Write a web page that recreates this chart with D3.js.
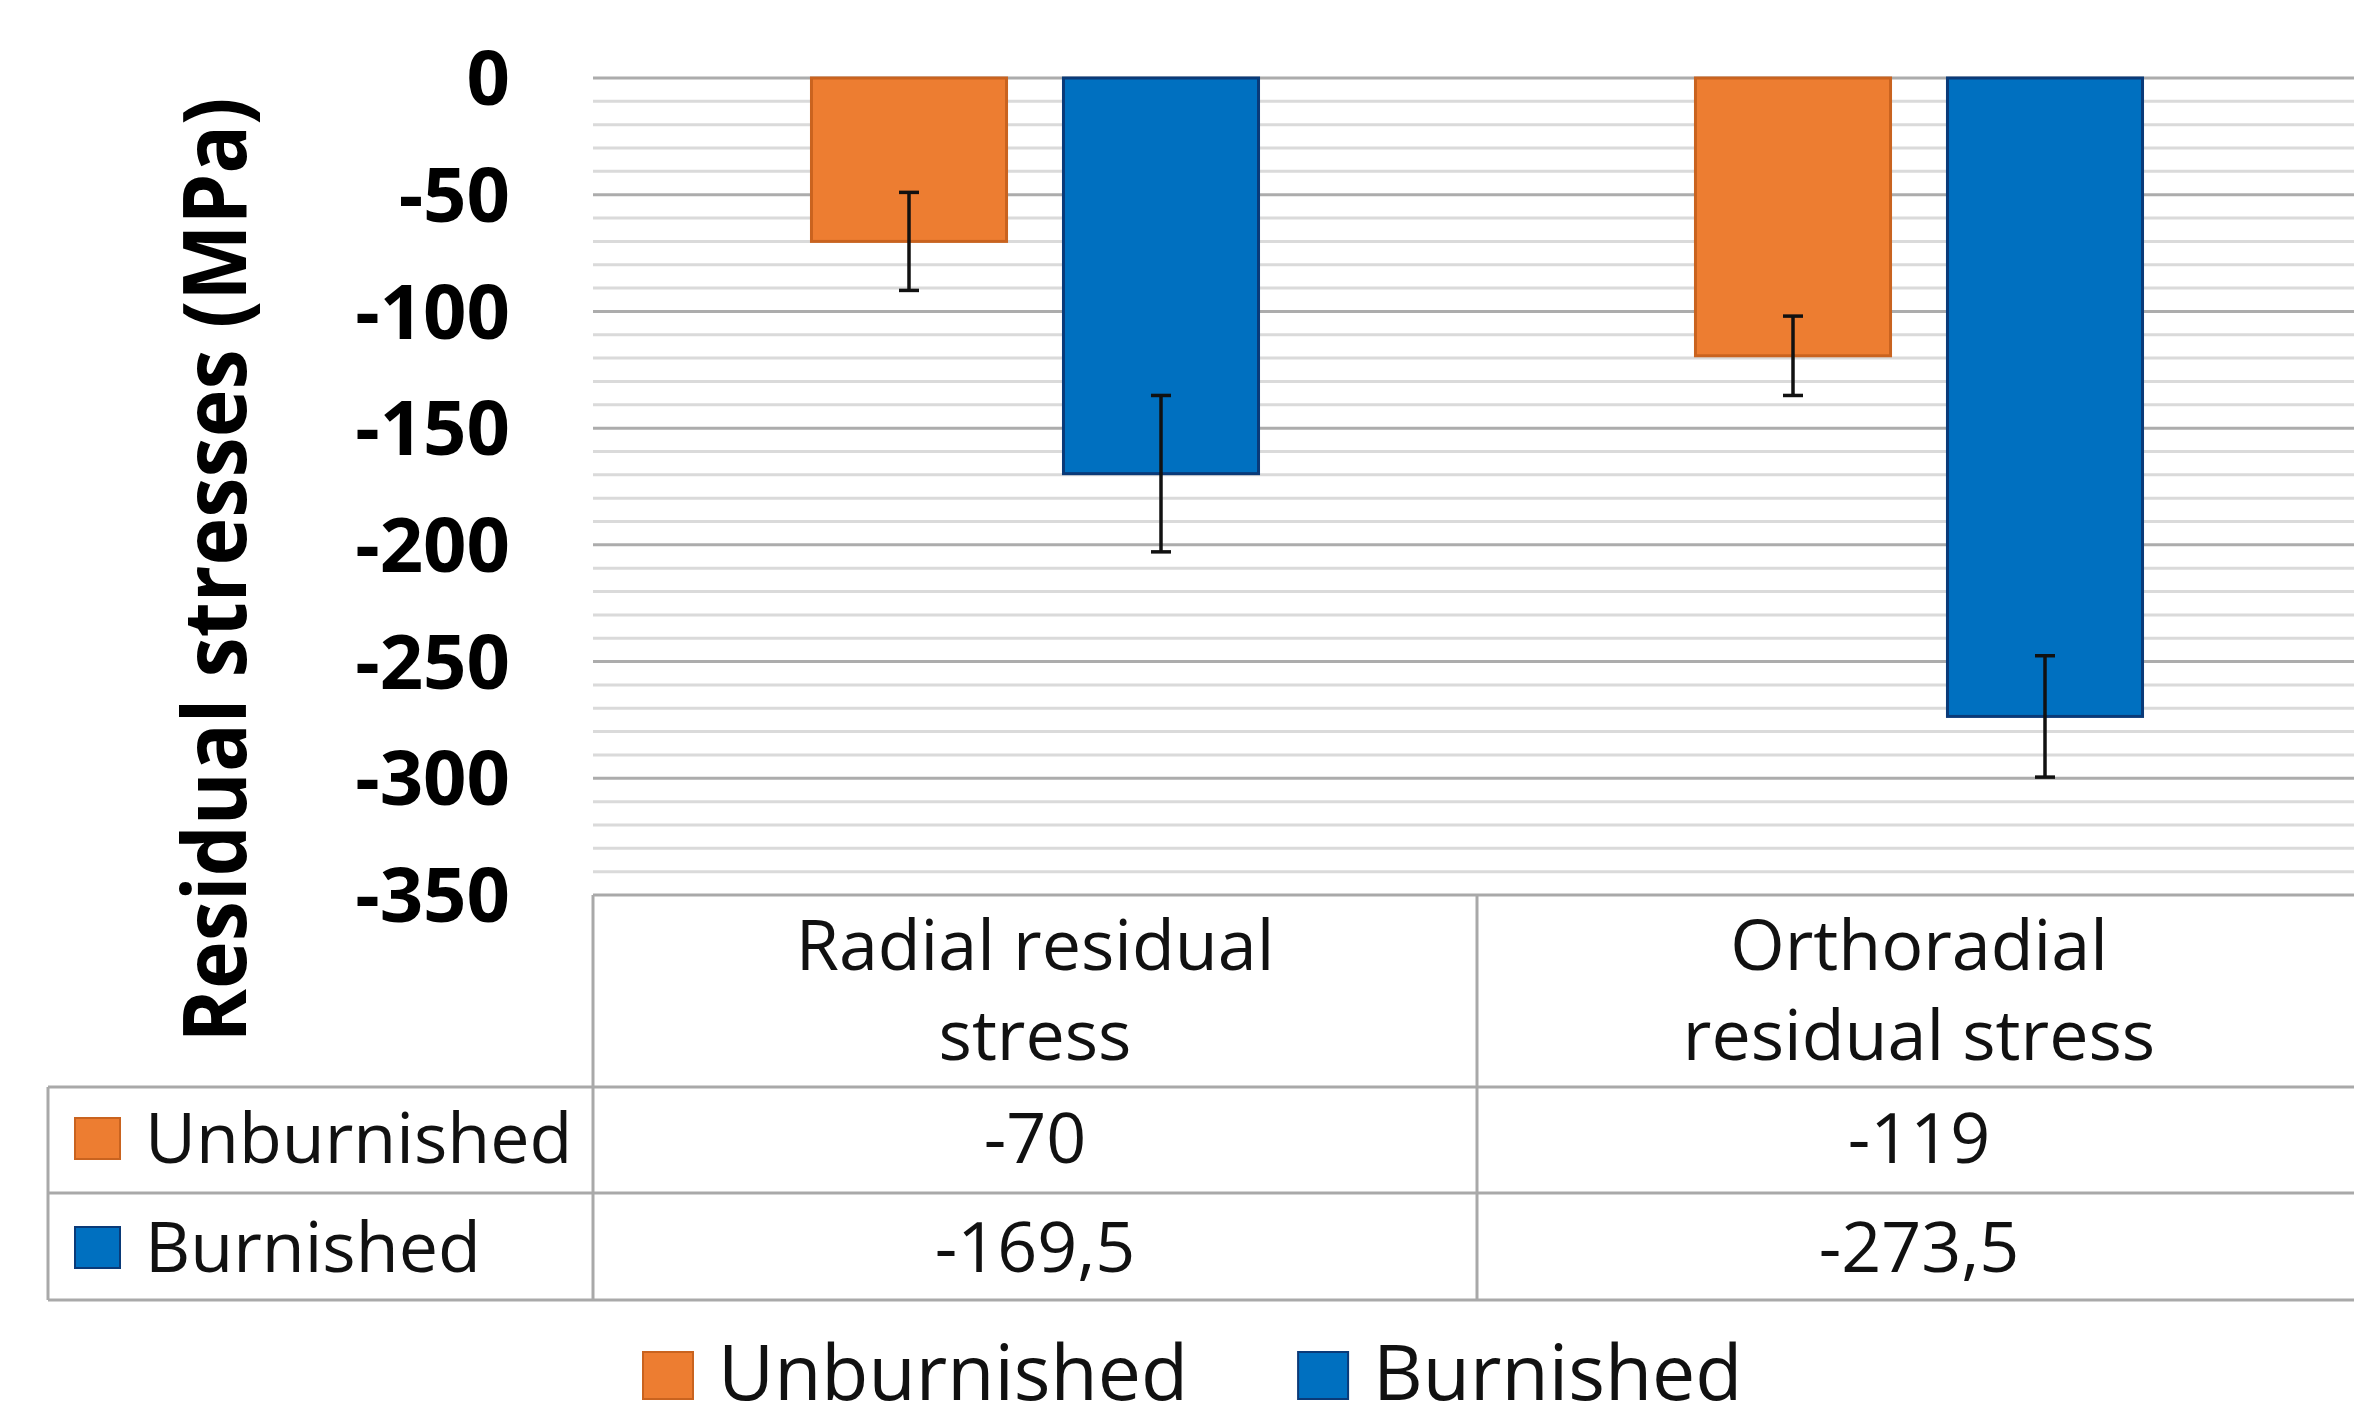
<!doctype html>
<html lang="en">

<head>
    <meta charset="utf-8">
    <title>Residual stresses</title>
    <script src="https://cdn.jsdelivr.net/npm/d3@7"></script>
    <style>
        body {
            margin: 0;
            background: #ffffff;
        }

        svg {
            display: block;
            font-family: "Open Sans", "Noto Sans", sans-serif;
        }
    </style>
</head>

<body>
    <svg></svg>

    <script>
        // data
        var categories = ["Radial residual\nstress", "Orthoradial\nresidual stress"];
        var seriesNames = ["Unburnished", "Burnished"];
        var unburnished = [-70, -119];
        var burnished = [-169.5, -273.5];
        var unburnishedErr = [21, 17];
        var burnishedErr = [33.5, 26];
        var yTicks = [0, -50, -100, -150, -200, -250, -300, -350];
        var colors = ["#ed7d31", "#0070c0"];
        var strokes = ["#c9631f", "#0a3a78"];

        var width = 2354;
        var height = 1423;
        var plotLeft = 593;
        var plotTop = 78;
        var plotBottom = 895;
        var catWidth = 884;
        var headerBottom = 1087;
        var row1Bottom = 1193;
        var row2Bottom = 1300;
        var tableLeft = 48;

        var series = [
            { name: seriesNames[0], values: unburnished, err: unburnishedErr, color: colors[0], stroke: strokes[0] },
            { name: seriesNames[1], values: burnished, err: burnishedErr, color: colors[1], stroke: strokes[1] }
        ];

        // minus sign as a plain hyphen and comma decimal, like the original
        var loc = d3.formatLocale({ decimal: ",", thousands: " ", grouping: [3], currency: ["", ""], minus: "-" });
        var fmt = loc.format("~f");

        var svg = d3.select('svg').attr('width', width).attr('height', height);

        var x = d3.scaleBand()
            .domain(categories)
            .range([plotLeft, plotLeft + catWidth * categories.length])
            .padding(0);

        var xs = d3.scaleBand()
            .domain(seriesNames)
            .range([0, x.bandwidth()])
            .paddingInner(0.226)
            .paddingOuter(0.867);

        var y = d3.scaleLinear()
            .domain([-350, 0])
            .range([plotBottom, plotTop]);

        // minor gridlines every 10
        var minor = d3.range(0, -350, -10).filter(function (d) { return d % 50 !== 0; });
        svg.append('g')
            .attr('class', 'grid-minor')
            .selectAll('line')
            .data(minor)
            .enter()
            .append('line')
            .attr('x1', plotLeft)
            .attr('x2', width)
            .attr('y1', function (d) { return y(d); })
            .attr('y2', function (d) { return y(d); })
            .attr('stroke', '#dadada')
            .attr('stroke-width', 3);

        // major gridlines
        svg.append('g')
            .attr('class', 'grid-major')
            .selectAll('line')
            .data(yTicks.filter(function (d) { return d > -350; }))
            .enter()
            .append('line')
            .attr('x1', plotLeft)
            .attr('x2', width)
            .attr('y1', function (d) { return y(d); })
            .attr('y2', function (d) { return y(d); })
            .attr('stroke', '#acacac')
            .attr('stroke-width', 3);

        // y axis labels
        var yAxis = d3.axisLeft(y)
            .tickValues(yTicks)
            .tickFormat(loc.format("d"))
            .tickSize(0)
            .tickPadding(plotLeft - 510);

        svg.append('g')
            .attr('class', 'axis-y')
            .attr('transform', 'translate(' + plotLeft + ', 0)')
            .call(yAxis)
            .call(function (g) { g.select('.domain').remove(); })
            .selectAll('text')
            .attr('font-family', '"Open Sans", sans-serif')
            .attr('font-size', 76)
            .attr('font-weight', 700)
            .attr('fill', '#000')
            .attr('dy', '0.35em');

        // y axis title
        svg.append('text')
            .attr('transform', 'translate(246, 570) rotate(-90)')
            .attr('text-anchor', 'middle')
            .attr('font-size', 88)
            .attr('font-weight', 700)
            .attr('fill', '#000')
            .attr('textLength', 945)
            .attr('lengthAdjust', 'spacingAndGlyphs')
            .text('Residual stresses (MPa)');

        // bars
        var groups = svg.append('g')
            .attr('class', 'bars')
            .selectAll('g')
            .data(series)
            .enter()
            .append('g');

        groups.selectAll('rect')
            .data(function (s) {
                return s.values.map(function (v, i) { return { s: s, v: v, c: categories[i] }; });
            })
            .enter()
            .append('rect')
            .attr('x', function (d) { return x(d.c) + xs(d.s.name); })
            .attr('y', y(0))
            .attr('width', xs.bandwidth())
            .attr('height', function (d) { return y(d.v) - y(0); })
            .attr('fill', function (d) { return d.s.color; })
            .attr('stroke', function (d) { return d.s.stroke; })
            .attr('stroke-width', 3);

        // error bars
        var errData = [];
        series.forEach(function (s) {
            s.values.forEach(function (v, i) {
                errData.push({ cx: x(categories[i]) + xs(s.name) + xs.bandwidth() / 2, lo: v - s.err[i], hi: v + s.err[i] });
            });
        });
        var eb = svg.append('g').attr('class', 'errors')
            .selectAll('g')
            .data(errData)
            .enter()
            .append('g')
            .attr('stroke', '#111')
            .attr('stroke-width', 3.5);
        eb.append('line')
            .attr('x1', function (d) { return d.cx; })
            .attr('x2', function (d) { return d.cx; })
            .attr('y1', function (d) { return y(d.hi); })
            .attr('y2', function (d) { return y(d.lo); });
        eb.append('line')
            .attr('x1', function (d) { return d.cx - 10; })
            .attr('x2', function (d) { return d.cx + 10; })
            .attr('y1', function (d) { return y(d.hi); })
            .attr('y2', function (d) { return y(d.hi); });
        eb.append('line')
            .attr('x1', function (d) { return d.cx - 10; })
            .attr('x2', function (d) { return d.cx + 10; })
            .attr('y1', function (d) { return y(d.lo); })
            .attr('y2', function (d) { return y(d.lo); });

        // data table under the plot
        var table = svg.append('g').attr('class', 'table')
            .attr('stroke', '#a9a9a9')
            .attr('stroke-width', 3);
        table.append('line').attr('x1', plotLeft).attr('x2', width).attr('y1', plotBottom).attr('y2', plotBottom);
        [headerBottom, row1Bottom, row2Bottom].forEach(function (yy) {
            table.append('line').attr('x1', tableLeft).attr('x2', width).attr('y1', yy).attr('y2', yy);
        });
        table.append('line').attr('x1', tableLeft).attr('x2', tableLeft).attr('y1', headerBottom).attr('y2', row2Bottom);
        x.domain().forEach(function (c) {
            table.append('line').attr('x1', x(c)).attr('x2', x(c)).attr('y1', plotBottom).attr('y2', row2Bottom);
        });
        table.append('line')
            .attr('x1', x.range()[1]).attr('x2', x.range()[1])
            .attr('y1', plotBottom).attr('y2', row2Bottom);

        // header cells
        var head = svg.append('g').attr('class', 'table-head')
            .selectAll('text')
            .data(categories)
            .enter()
            .append('text')
            .attr('x', function (d) { return x(d) + x.bandwidth() / 2; })
            .attr('y', 970)
            .attr('text-anchor', 'middle')
            .attr('font-size', 70)
            .attr('fill', '#111');
        head.selectAll('tspan')
            .data(function (d) { return d.split('\n'); })
            .enter()
            .append('tspan')
            .attr('x', function () { var p = this.parentNode; return p.getAttribute('x'); })
            .attr('dy', function (d, i) { return i === 0 ? 0 : 90; })
            .text(function (d) { return d; });

        // rows: key, name, values
        var rowBase = [1163, 1272];
        var rows = svg.append('g').attr('class', 'table-rows')
            .selectAll('g')
            .data(series)
            .enter()
            .append('g');
        rows.append('rect')
            .attr('x', 75)
            .attr('y', function (d, i) { return rowBase[i] - 45; })
            .attr('width', 45)
            .attr('height', 41)
            .attr('fill', function (d) { return d.color; })
            .attr('stroke', function (d) { return d.stroke; })
            .attr('stroke-width', 2);
        rows.append('text')
            .attr('x', 145)
            .attr('y', function (d, i) { return rowBase[i]; })
            .attr('font-size', 70)
            .attr('fill', '#111')
            .text(function (d) { return d.name; });
        rows.each(function (s, si) {
            d3.select(this).selectAll('text.val')
                .data(s.values)
                .enter()
                .append('text')
                .attr('class', 'val')
                .attr('x', function (v, i) { return x(categories[i]) + x.bandwidth() / 2; })
                .attr('y', rowBase[si])
                .attr('text-anchor', 'middle')
                .attr('font-size', 70)
                .attr('fill', '#111')
                .text(function (v) { return fmt(v); });
        });

        // legend at the bottom
        var legend = svg.append('g').attr('class', 'legend');
        var lx = 643;
        series.forEach(function (s) {
            legend.append('rect')
                .attr('x', lx)
                .attr('y', 1352)
                .attr('width', 50)
                .attr('height', 47)
                .attr('fill', s.color)
                .attr('stroke', s.stroke)
                .attr('stroke-width', 2);
            var t = legend.append('text')
                .attr('x', lx + 75)
                .attr('y', 1400)
                .attr('font-size', 77)
                .attr('fill', '#111')
                .text(s.name);
            lx = lx + 75 + t.node().getComputedTextLength() + 110;
        });
    </script>

</body>

</html>
